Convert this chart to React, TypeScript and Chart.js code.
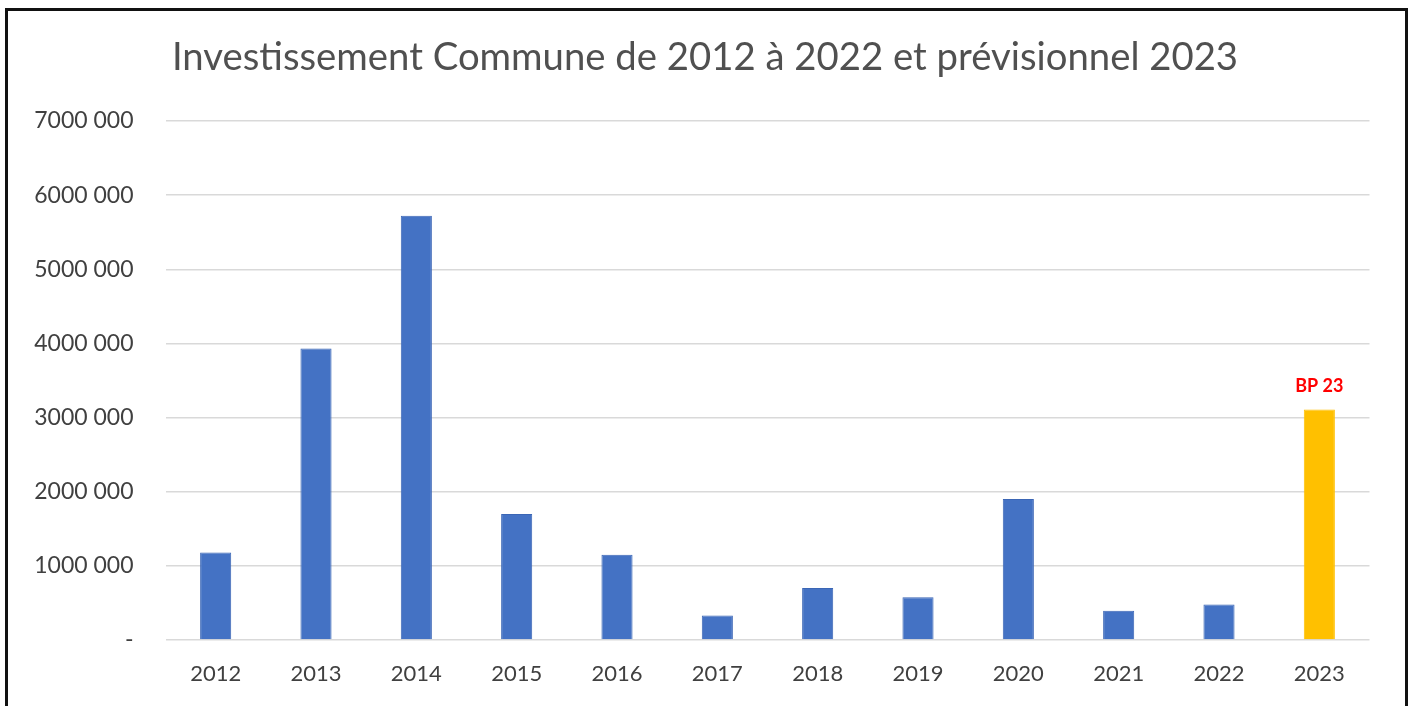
import React, { useEffect, useRef } from "react";
import { Chart, registerables } from "chart.js";

Chart.register(...registerables);

const categories = ["2012", "2013", "2014", "2015", "2016", "2017", "2018", "2019", "2020", "2021", "2022", "2023"];
const investValues = [1180000, 3930000, 5720000, 1700000, 1150000, 330000, 700000, 575000, 1900000, 395000, 480000, 3110000];
const barLabels = ["", "", "", "", "", "", "", "", "", "", "", "BP 23"];
const forecastFlags = [false, false, false, false, false, false, false, false, false, false, false, true];
const chartTitle = "Investissement Commune de 2012 à 2022 et prévisionnel 2023";
const yMin = 0;
const yMax = 7000000;
const yStep = 1000000;

function formatTick(v: number): string {
  if (v === 0) return "-";
  const thousands = Math.floor(v / 1000);
  const rest = String(v % 1000).padStart(3, "0");
  return `${thousands} ${rest}`;
}

const barLabelPlugin = {
  id: "barLabelPlugin",
  afterDatasetsDraw(chart: any) {
    const meta = chart.getDatasetMeta(0);
    const ctx = chart.ctx;
    ctx.save();
    ctx.font = "bold 18px Lato";
    ctx.fillStyle = "#FF0000";
    ctx.textAlign = "center";
    ctx.textBaseline = "alphabetic";
    meta.data.forEach((el: any, i: number) => {
      if (barLabels[i]) ctx.fillText(barLabels[i], el.x, el.y - 17);
    });
    ctx.restore();
  },
};

export default function App() {
  const ref = useRef<HTMLCanvasElement | null>(null);
  useEffect(() => {
    if (!ref.current) return;
    Chart.defaults.font.family = "Lato";
    const chart = new Chart(ref.current, {
      type: "bar",
      data: {
        labels: categories,
        datasets: [
          {
            data: investValues,
            yAxisID: "y",
            backgroundColor: forecastFlags.map((f) => (f ? "#FFC000" : "#4472C4")),
            borderColor: forecastFlags.map((f) => (f ? "#FFC000" : "#3B66B5")),
            borderWidth: 1,
            categoryPercentage: 1,
            barPercentage: 0.31,
          },
        ],
      },
      options: {
        responsive: false,
        animation: false,
        layout: { padding: { left: 0, right: 0, top: 0, bottom: 0 } },
        plugins: {
          legend: { display: false },
          tooltip: { enabled: false },
          title: {
            display: true,
            text: chartTitle,
            color: "#505050",
            font: { size: 38.3, weight: "normal" as any, family: "Lato" },
            padding: { top: 35, bottom: 40 },
          },
        },
        scales: {
          x: {
            grid: { display: false },
            border: { display: false },
            ticks: { color: "#404040", font: { size: 22 }, padding: 13, maxRotation: 0 },
            afterFit: (axis: any) => {
              axis.height = 66;
            },
          },
          y: {
            min: yMin,
            max: yMax,
            ticks: {
              stepSize: yStep,
              color: "#404040",
              font: { size: 23 },
              padding: 32,
              callback: (v: any) => formatTick(Number(v)),
            },
            grid: { color: "#D9D9D9", lineWidth: 1.5, drawTicks: false },
            border: { display: false },
            afterFit: (axis: any) => {
              axis.width = 165.5;
            },
          },
          yRightSpace: {
            type: "linear",
            position: "right",
            display: true,
            grid: { display: false, drawTicks: false },
            border: { display: false },
            ticks: { display: false },
            afterFit: (axis: any) => {
              axis.width = 40.5;
            },
          },
        },
      },
      plugins: [barLabelPlugin],
    });
    return () => chart.destroy();
  }, []);
  return (
    <div style={{ position: "fixed", left: 0, top: 0, width: 1410, height: 706, background: "#fff", overflow: "hidden" }}>
      <canvas ref={ref} width={1410} height={706} style={{ position: "absolute", left: 0, top: 0 }} />
      <div
        style={{
          position: "absolute",
          left: 5,
          top: 8,
          width: 1403,
          height: 800,
          border: "3px solid #111",
          boxSizing: "border-box",
          pointerEvents: "none",
        }}
      />
    </div>
  );
}
